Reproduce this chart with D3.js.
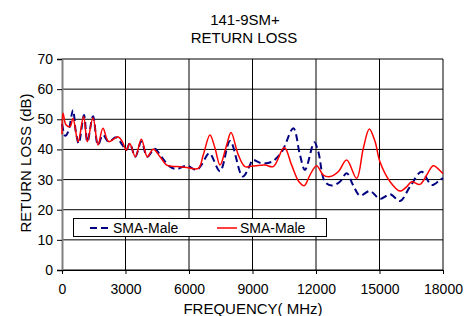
<!DOCTYPE html>
<html lang="en">
<head>
<meta charset="UTF-8" />
<title>141-9SM+ Return Loss</title>
<script src="https://d3js.org/d3.v7.min.js"></script>
<style>
  body { margin: 0; background: #fff; }
  text { font-family: "Liberation Sans", Arial, sans-serif; fill: #000; }
</style>
</head>
<body>
<div id="chart"></div>
<script>
// tick labels
var xTicks = [0, 3000, 6000, 9000, 12000, 15000, 18000];
var yTicks = [0, 10, 20, 30, 40, 50, 60, 70];

// series 1: SMA-Male (dashed, navy)
var blueFreq = [0, 150, 300, 520, 650, 790, 1040, 1200, 1465, 1700, 1935, 2200, 2565, 2850, 3040, 3200, 3465, 3750, 4030, 4380, 4700, 5100, 5420, 5890, 6360, 6600, 6960, 7465, 7940, 8535, 8880, 9000, 9430, 9910, 10380, 10930, 11240, 11480, 11920, 12110, 12420, 12740, 13130, 13450, 13750, 14080, 14550, 15020, 15500, 15970, 16440, 16990, 17460, 17860, 18000];
var blueLoss = [48.5, 44.5, 46, 53, 46, 42, 51.4, 42.5, 51, 41.5, 44.8, 42.6, 44, 41.5, 39.8, 42, 37.6, 42.6, 37.6, 40.2, 37.5, 34.3, 33.5, 34.6, 33.2, 35, 38.7, 32.8, 42.8, 31, 34.8, 36.5, 35.4, 35.9, 39.2, 47, 38.2, 33.2, 42.4, 39.2, 29.3, 28, 29.3, 32.1, 28.2, 24.7, 26.2, 23.6, 25.1, 22.9, 27.6, 32.6, 28.2, 29.9, 30.5];

// series 2: SMA-Male (solid, red)
var redFreq = [0, 50, 180, 380, 520, 760, 1020, 1195, 1465, 1700, 1935, 2205, 2645, 2850, 3040, 3200, 3465, 3750, 4030, 4310, 4630, 4945, 5420, 5890, 6440, 6675, 6990, 7230, 7465, 7780, 7985, 8330, 8645, 9000, 9590, 9980, 10500, 10850, 11195, 11450, 11715, 12030, 12345, 12660, 13050, 13450, 13920, 14235, 14520, 14790, 15020, 15500, 15970, 16280, 16520, 16910, 17230, 17540, 17940, 18000];
var redLoss = [45, 52, 48.3, 47.6, 50.3, 42.6, 50.9, 42.6, 50.5, 41.5, 47, 42.6, 44.2, 42.6, 39.8, 42, 37.6, 43.4, 37.6, 40.1, 37.6, 34.8, 34.3, 34, 33.7, 38.2, 44.8, 40.4, 34.8, 41.5, 45.6, 38.2, 34.3, 34.5, 34.8, 34.3, 40.6, 34.8, 29.3, 28, 31.5, 34.6, 31.5, 31, 32.6, 36.5, 30.4, 40.4, 46.8, 42.6, 35.9, 29.3, 26.2, 27.6, 29.3, 28.4, 31.5, 34.6, 32.4, 32];

var seriesNames = ["SMA-Male", "SMA-Male"];

var W = 465, H = 316;
var margin = {top: 59, right: 22, bottom: 46, left: 62};
var width = W - margin.left - margin.right,
    height = H - margin.top - margin.bottom;

var svg = d3.select("#chart")
  .append("svg")
    .attr("width", W)
    .attr("height", H);

var g = svg.append("g")
    .attr("transform", "translate(" + margin.left + "," + margin.top + ")");

var x = d3.scaleLinear().domain([0, 18000]).range([0, width]);
var y = d3.scaleLinear().domain([0, 70]).range([height, 0]);

// grid
g.append("g")
  .selectAll("line")
  .data(yTicks)
  .enter().append("line")
    .attr("x1", 0).attr("x2", width)
    .attr("y1", function(d) { return y(d); })
    .attr("y2", function(d) { return y(d); })
    .attr("stroke", "#000").attr("stroke-width", 1);

g.append("g")
  .selectAll("line")
  .data(xTicks.slice(1))
  .enter().append("line")
    .attr("x1", function(d) { return x(d); })
    .attr("x2", function(d) { return x(d); })
    .attr("y1", 0).attr("y2", height)
    .attr("stroke", "#000").attr("stroke-width", 1);

// axes
var yAxis = g.append("g")
  .call(d3.axisLeft(y).tickValues(yTicks).tickSize(5).tickPadding(4));
yAxis.select(".domain").attr("stroke", "#808080").attr("stroke-width", 2);
yAxis.selectAll("text").style("font-size", "14px").style("font-family", "Liberation Sans, Arial, sans-serif");

var xAxis = g.append("g")
  .attr("transform", "translate(0," + height + ")")
  .call(d3.axisBottom(x).tickValues(xTicks).tickFormat(d3.format("d")).tickSize(4).tickPadding(10));
xAxis.select(".domain").attr("stroke", "#000");
xAxis.selectAll("text").style("font-size", "14px").style("font-family", "Liberation Sans, Arial, sans-serif");

// lines
var line = d3.line()
  .curve(d3.curveCatmullRom.alpha(0.5))
  .x(function(d) { return x(d[0]); })
  .y(function(d) { return y(d[1]); });

g.append("path")
  .datum(d3.zip(blueFreq, blueLoss))
  .attr("fill", "none")
  .attr("stroke", "#000080")
  .attr("stroke-width", 2)
  .attr("stroke-dasharray", "7,4")
  .attr("d", line);

g.append("path")
  .datum(d3.zip(redFreq, redLoss))
  .attr("fill", "none")
  .attr("stroke", "#ff0000")
  .attr("stroke-width", 1.5)
  .attr("d", line);

// titles
svg.append("text")
  .attr("x", 245).attr("y", 25)
  .attr("text-anchor", "middle")
  .style("font-size", "15px")
  .text("141-9SM+");
svg.append("text")
  .attr("x", 244).attr("y", 43)
  .attr("text-anchor", "middle")
  .style("font-size", "15px")
  .text("RETURN LOSS");

svg.append("text")
  .attr("x", 253).attr("y", 314)
  .attr("text-anchor", "middle")
  .style("font-size", "15px")
  .text("FREQUENCY( MHz)");

svg.append("text")
  .attr("transform", "translate(31,163) rotate(-90)")
  .attr("text-anchor", "middle")
  .style("font-size", "15px")
  .text("RETURN LOSS (dB)");

// legend
var legend = svg.append("g");
legend.append("rect")
  .attr("x", 73.5).attr("y", 218.5)
  .attr("width", 253).attr("height", 18)
  .attr("fill", "#fff").attr("stroke", "#000").attr("stroke-width", 1);

legend.append("line")
  .attr("x1", 90).attr("x2", 111).attr("y1", 228).attr("y2", 228)
  .attr("stroke", "#000080").attr("stroke-width", 2)
  .attr("stroke-dasharray", "7,4");
legend.append("text")
  .attr("x", 113).attr("y", 233)
  .style("font-size", "14px")
  .text(seriesNames[0]);

legend.append("line")
  .attr("x1", 217).attr("x2", 237).attr("y1", 228).attr("y2", 228)
  .attr("stroke", "#ff0000").attr("stroke-width", 1.5);
legend.append("text")
  .attr("x", 240).attr("y", 233)
  .style("font-size", "14px")
  .text(seriesNames[1]);
</script>
</body>
</html>
